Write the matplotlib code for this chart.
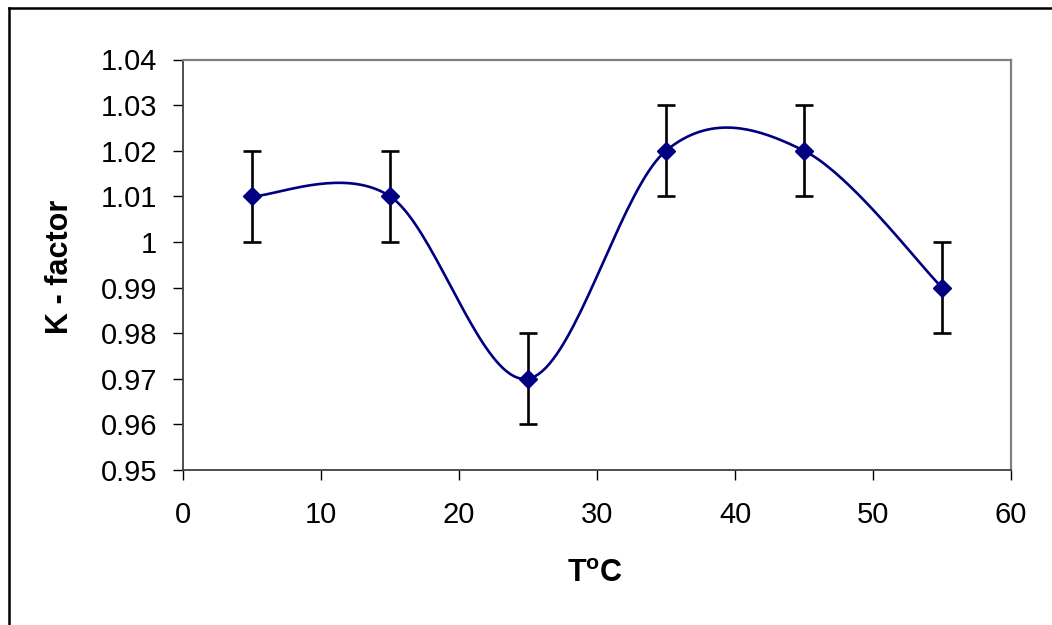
import matplotlib
matplotlib.use("Agg")
import matplotlib.pyplot as plt
import numpy as np
from matplotlib.lines import Line2D

plt.rcParams["font.family"] = ["Liberation Sans", "DejaVu Sans"]
plt.rcParams["mathtext.fontset"] = "custom"
plt.rcParams["mathtext.bf"] = "Liberation Sans:bold"
plt.rcParams["mathtext.rm"] = "Liberation Sans"

temps = [5, 15, 25, 35, 45, 55]
k_factor = [1.01, 1.01, 0.97, 1.02, 1.02, 0.99]
k_err = [0.01, 0.01, 0.01, 0.01, 0.01, 0.01]
x_ticks = [0, 10, 20, 30, 40, 50, 60]
y_ticks = [0.95, 0.96, 0.97, 0.98, 0.99, 1.0, 1.01, 1.02, 1.03, 1.04]
y_labels = ["0.95", "0.96", "0.97", "0.98", "0.99", "1", "1.01", "1.02", "1.03", "1.04"]

NAVY = "#000080"


def excel_smooth(xs, ys, n=40):
    # Excel-style smoothed line: cubic Bezier with Catmull-Rom control points (1/6)
    p = np.column_stack([xs, ys]).astype(float)
    m = len(p)
    out = []
    for i in range(m - 1):
        p0 = p[max(i - 1, 0)]
        p1 = p[i]
        p2 = p[i + 1]
        p3 = p[min(i + 2, m - 1)]
        c1 = p1 + (p2 - p0) / 6.0
        c2 = p2 - (p3 - p1) / 6.0
        t = np.linspace(0, 1, n)[:, None]
        seg = ((1 - t) ** 3) * p1 + 3 * ((1 - t) ** 2) * t * c1 + 3 * (1 - t) * t ** 2 * c2 + t ** 3 * p2
        out.append(seg if i == 0 else seg[1:])
    out = np.vstack(out)
    return out[:, 0], out[:, 1]


def main() -> None:
    fig = plt.figure(figsize=(10.52, 6.25), dpi=100)
    ax = fig.add_axes([183 / 1052, 1 - 470 / 625, (1011 - 183) / 1052, (470 - 59.5) / 625])

    sx, sy = excel_smooth(temps, k_factor)
    ax.plot(sx, sy, color=NAVY, lw=1.9, zorder=2)
    ax.errorbar(temps, k_factor, yerr=k_err, fmt="none", ecolor="black",
                elinewidth=1.9, capsize=6.5, capthick=1.9, zorder=3)
    ax.plot(temps, k_factor, ls="none", marker="D", ms=9, color=NAVY, zorder=4)

    ax.set_xlim(0, 60)
    ax.set_ylim(0.95, 1.04)
    ax.set_xticks(x_ticks)
    ax.set_xticklabels([str(v) for v in x_ticks])
    ax.set_yticks(y_ticks)
    ax.set_yticklabels(y_labels)
    ax.tick_params(axis="both", direction="out", length=7.2, width=1.0,
                   labelsize=21, colors="black")
    ax.tick_params(axis="y", pad=11.5)
    ax.tick_params(axis="x", pad=15)

    for side in ("top", "right"):
        ax.spines[side].set_color("#808080")
        ax.spines[side].set_linewidth(1.6)
    for side in ("left", "bottom"):
        ax.spines[side].set_color("#404040")
        ax.spines[side].set_linewidth(1.3)

    fig.text(60.5 / 1052, 1 - 267 / 625, "K - factor", rotation=90, fontsize=22,
             fontweight="bold", ha="center", va="center")
    fig.text(595 / 1052, 1 - 574 / 625, r"$\mathbf{T^{o}C}$", fontsize=22,
             ha="center", va="center")

    # outer chart frame (left and top edges visible)
    fig.add_artist(Line2D([9.5 / 1052, 9.5 / 1052], [0, 1 - 7.5 / 625],
                          transform=fig.transFigure, color="black", lw=1.8))
    fig.add_artist(Line2D([9.5 / 1052, 1], [1 - 7.5 / 625, 1 - 7.5 / 625],
                          transform=fig.transFigure, color="black", lw=1.8))

    fig.savefig("out.png", dpi=100)


if __name__ == "__main__":
    main()
